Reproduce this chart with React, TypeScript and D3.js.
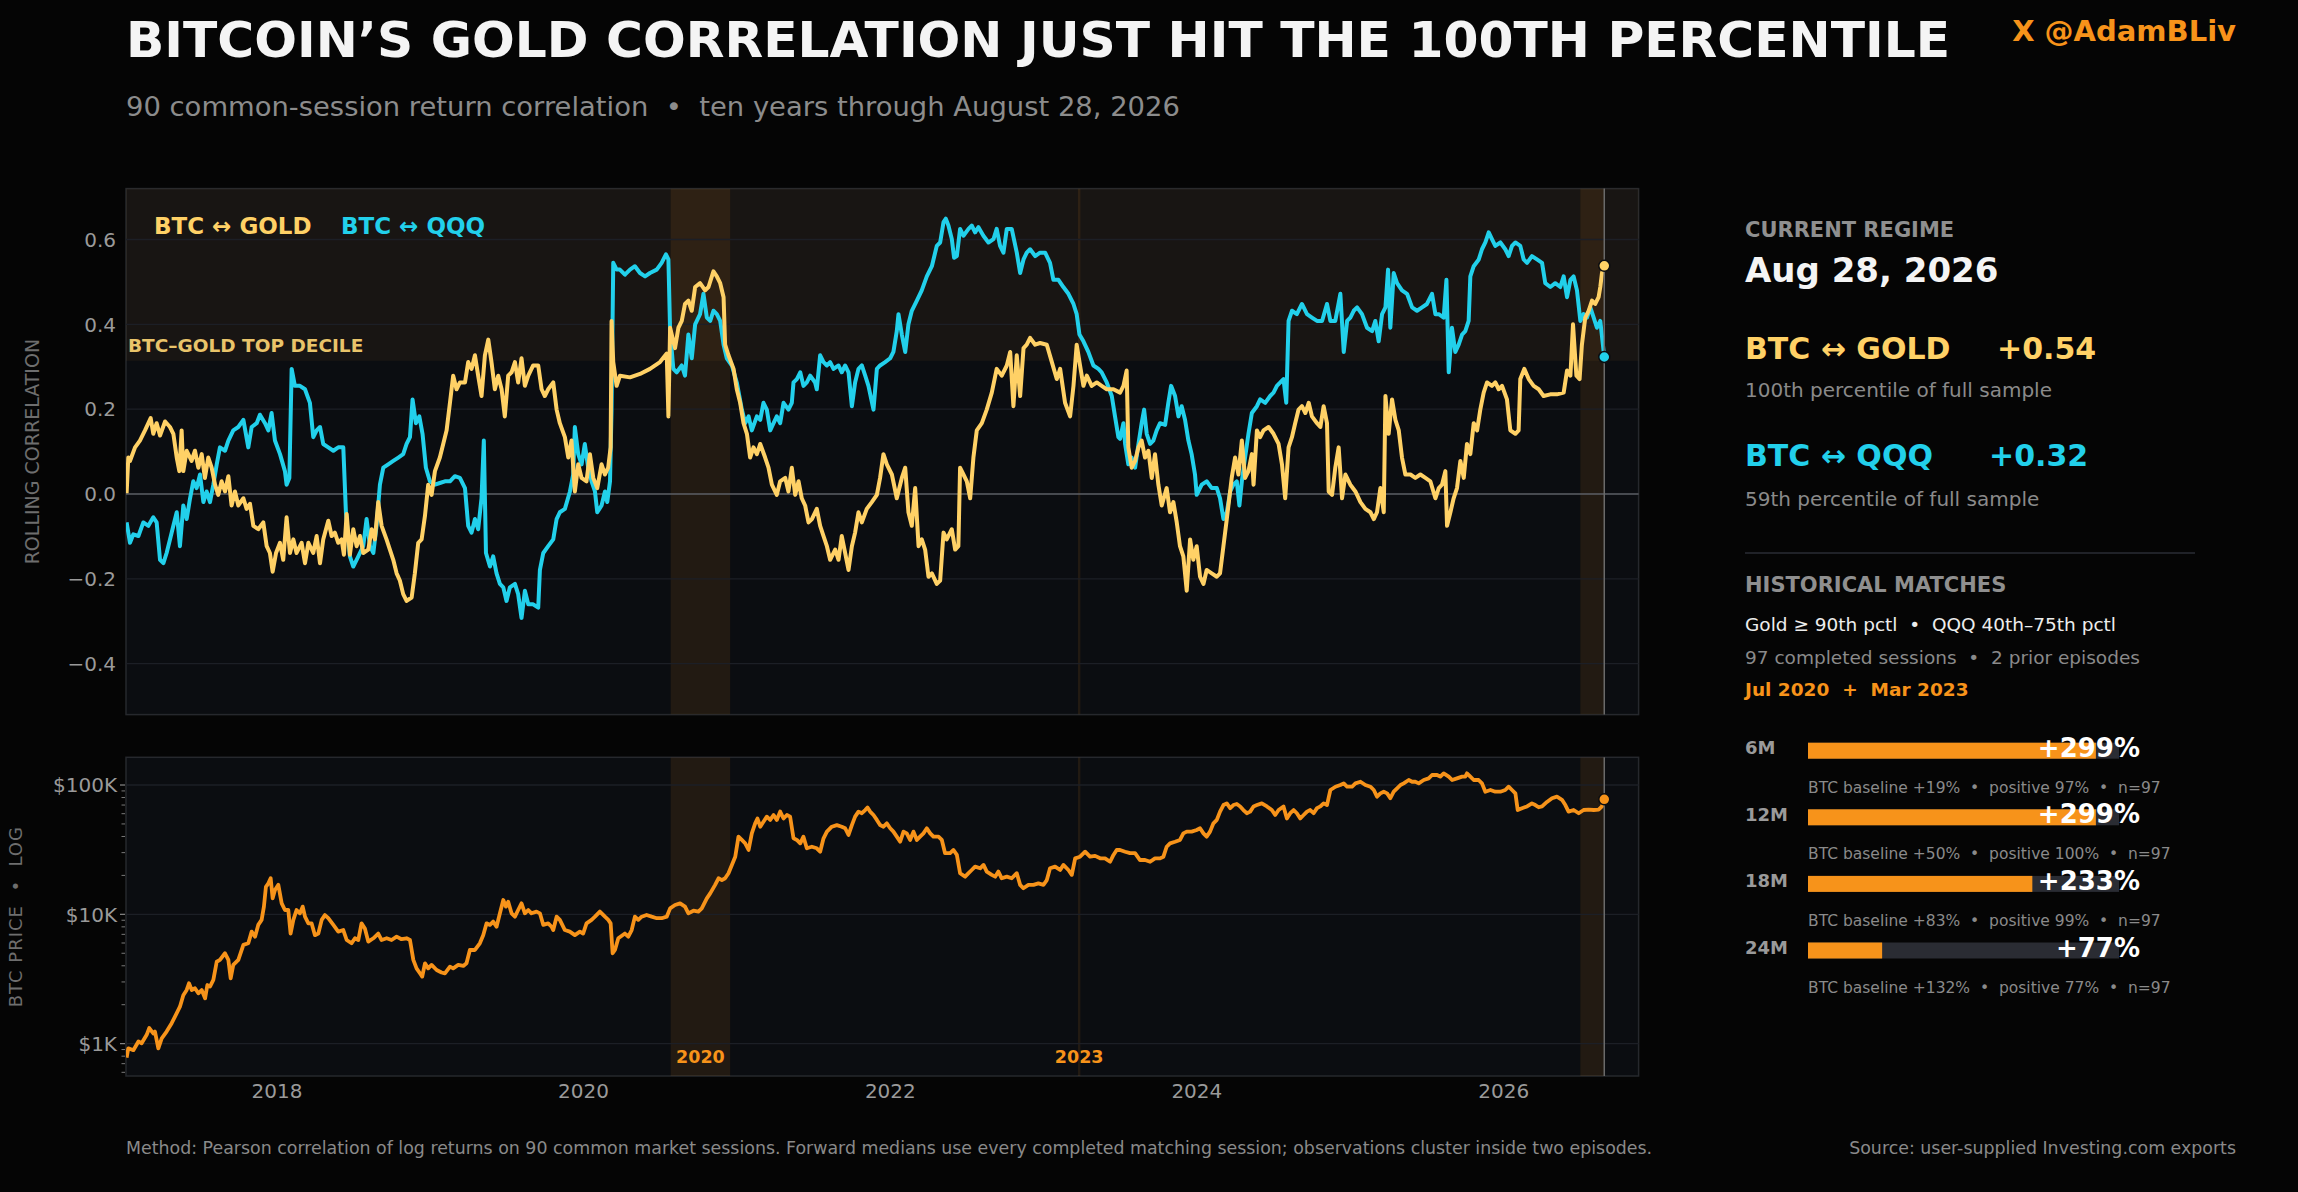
import React from "react";
import * as d3 from "d3";

const W = 2298;
const H = 1192;
const FONT = "DejaVu Sans, Verdana, sans-serif";
const SEP = "\u00a0 •\u00a0 ";

// Rolling 90-session correlation, [decimal year, r]
const goldCorr: [number, number][] = [
  [2017.019, 0.002], [2017.03, 0.086], [2017.041, 0.078], [2017.074, 0.11], [2017.106, 0.126], [2017.139, 0.15],
  [2017.176, 0.179], [2017.193, 0.142], [2017.215, 0.167], [2017.237, 0.138], [2017.27, 0.171], [2017.302, 0.158],
  [2017.324, 0.142], [2017.346, 0.086], [2017.363, 0.054], [2017.378, 0.15], [2017.389, 0.054], [2017.411, 0.102],
  [2017.443, 0.078], [2017.465, 0.102], [2017.487, 0.062], [2017.509, 0.094], [2017.53, 0.038], [2017.552, 0.086],
  [2017.574, 0.062], [2017.596, 0.022], [2017.617, -0.002], [2017.639, 0.03], [2017.661, 0.006], [2017.683, 0.042],
  [2017.704, -0.027], [2017.726, 0.006], [2017.748, -0.027], [2017.781, -0.01], [2017.802, -0.035], [2017.824, -0.023],
  [2017.846, -0.075], [2017.878, -0.083], [2017.911, -0.067], [2017.933, -0.123], [2017.954, -0.139], [2017.972, -0.183],
  [2017.994, -0.139], [2018.02, -0.115], [2018.041, -0.155], [2018.063, -0.055], [2018.085, -0.139], [2018.107, -0.107],
  [2018.128, -0.139], [2018.161, -0.115], [2018.183, -0.163], [2018.205, -0.115], [2018.237, -0.139], [2018.259, -0.099],
  [2018.281, -0.163], [2018.302, -0.107], [2018.335, -0.063], [2018.357, -0.099], [2018.378, -0.091], [2018.4, -0.115],
  [2018.422, -0.107], [2018.437, -0.143], [2018.455, -0.047], [2018.476, -0.143], [2018.498, -0.083], [2018.52, -0.123],
  [2018.542, -0.099], [2018.563, -0.139], [2018.596, -0.131], [2018.618, -0.083], [2018.639, -0.107], [2018.661, -0.019],
  [2018.683, -0.075], [2018.715, -0.107], [2018.737, -0.131], [2018.759, -0.155], [2018.781, -0.187], [2018.802, -0.204],
  [2018.824, -0.236], [2018.846, -0.252], [2018.879, -0.244], [2018.9, -0.187], [2018.922, -0.115], [2018.944, -0.107],
  [2018.966, -0.051], [2018.987, 0.022], [2019.009, -0.002], [2019.031, 0.054], [2019.063, 0.086], [2019.085, 0.118],
  [2019.107, 0.15], [2019.129, 0.215], [2019.15, 0.279], [2019.172, 0.247], [2019.194, 0.263], [2019.227, 0.263],
  [2019.248, 0.311], [2019.27, 0.295], [2019.292, 0.327], [2019.313, 0.279], [2019.335, 0.231], [2019.357, 0.327],
  [2019.379, 0.364], [2019.4, 0.311], [2019.422, 0.247], [2019.444, 0.279], [2019.466, 0.247], [2019.487, 0.183],
  [2019.509, 0.279], [2019.531, 0.287], [2019.553, 0.311], [2019.574, 0.263], [2019.596, 0.32], [2019.618, 0.255],
  [2019.64, 0.279], [2019.672, 0.303], [2019.705, 0.303], [2019.727, 0.247], [2019.748, 0.231], [2019.77, 0.247],
  [2019.803, 0.263], [2019.825, 0.199], [2019.846, 0.167], [2019.879, 0.134], [2019.901, 0.086], [2019.922, 0.126],
  [2019.944, 0.006], [2019.966, 0.07], [2019.988, 0.038], [2020.02, 0.03], [2020.042, 0.094], [2020.064, 0.038],
  [2020.09, 0.014], [2020.118, 0.07], [2020.14, 0.046], [2020.161, 0.062], [2020.177, 0.11], [2020.183, 0.408],
  [2020.194, 0.311], [2020.216, 0.255], [2020.238, 0.279], [2020.303, 0.275], [2020.368, 0.283], [2020.433, 0.295],
  [2020.498, 0.311], [2020.542, 0.331], [2020.553, 0.183], [2020.564, 0.392], [2020.596, 0.344], [2020.618, 0.392],
  [2020.64, 0.408], [2020.661, 0.448], [2020.683, 0.456], [2020.705, 0.432], [2020.727, 0.488], [2020.759, 0.497],
  [2020.792, 0.48], [2020.814, 0.488], [2020.846, 0.525], [2020.868, 0.513], [2020.89, 0.497], [2020.912, 0.464],
  [2020.922, 0.352], [2020.944, 0.327], [2020.977, 0.295], [2020.998, 0.247], [2021.02, 0.215], [2021.042, 0.167],
  [2021.064, 0.142], [2021.085, 0.086], [2021.107, 0.11], [2021.129, 0.094], [2021.151, 0.118], [2021.183, 0.086],
  [2021.205, 0.062], [2021.227, 0.022], [2021.259, -0.002], [2021.281, 0.03], [2021.314, 0.038], [2021.335, 0.006],
  [2021.357, 0.062], [2021.379, -0.002], [2021.401, 0.03], [2021.422, -0.01], [2021.444, -0.027], [2021.466, -0.067],
  [2021.488, -0.059], [2021.52, -0.035], [2021.542, -0.075], [2021.564, -0.099], [2021.586, -0.123], [2021.607, -0.155],
  [2021.64, -0.131], [2021.662, -0.155], [2021.683, -0.099], [2021.705, -0.139], [2021.727, -0.179], [2021.749, -0.123],
  [2021.77, -0.091], [2021.792, -0.043], [2021.814, -0.067], [2021.846, -0.035], [2021.879, -0.019], [2021.912, -0.002],
  [2021.933, 0.038], [2021.955, 0.094], [2021.977, 0.07], [2022.01, 0.046], [2022.042, -0.01], [2022.075, 0.038],
  [2022.097, 0.062], [2022.118, -0.043], [2022.14, -0.075], [2022.162, 0.014], [2022.184, -0.123], [2022.205, -0.107],
  [2022.227, -0.131], [2022.249, -0.195], [2022.271, -0.187], [2022.303, -0.212], [2022.325, -0.204], [2022.347, -0.091],
  [2022.368, -0.107], [2022.401, -0.083], [2022.423, -0.131], [2022.444, -0.123], [2022.455, 0.062], [2022.477, 0.046],
  [2022.499, 0.03], [2022.521, -0.01], [2022.542, 0.086], [2022.564, 0.15], [2022.597, 0.167], [2022.629, 0.199],
  [2022.662, 0.239], [2022.694, 0.295], [2022.727, 0.279], [2022.76, 0.303], [2022.782, 0.335], [2022.803, 0.207],
  [2022.825, 0.327], [2022.847, 0.231], [2022.869, 0.344], [2022.89, 0.352], [2022.912, 0.368], [2022.945, 0.352],
  [2022.977, 0.356], [2023.021, 0.352], [2023.053, 0.312], [2023.086, 0.271], [2023.108, 0.295], [2023.14, 0.215],
  [2023.173, 0.183], [2023.195, 0.255], [2023.216, 0.352], [2023.238, 0.303], [2023.26, 0.255], [2023.282, 0.279],
  [2023.314, 0.255], [2023.347, 0.263], [2023.379, 0.255], [2023.412, 0.247], [2023.456, 0.247], [2023.499, 0.239],
  [2023.521, 0.255], [2023.542, 0.291], [2023.553, 0.11], [2023.575, 0.062], [2023.597, 0.078], [2023.619, 0.11],
  [2023.64, 0.126], [2023.662, 0.086], [2023.684, 0.102], [2023.706, 0.038], [2023.727, 0.094], [2023.749, 0.022],
  [2023.771, -0.027], [2023.803, 0.014], [2023.825, -0.043], [2023.847, -0.019], [2023.869, -0.067], [2023.89, -0.123],
  [2023.912, -0.147], [2023.934, -0.228], [2023.956, -0.107], [2023.977, -0.155], [2023.999, -0.123], [2024.021, -0.195],
  [2024.043, -0.212], [2024.064, -0.179], [2024.097, -0.187], [2024.13, -0.195], [2024.151, -0.187], [2024.173, -0.123],
  [2024.195, -0.059], [2024.227, 0.038], [2024.249, 0.086], [2024.271, 0.046], [2024.293, 0.126], [2024.314, 0.038],
  [2024.336, 0.054], [2024.358, 0.094], [2024.369, 0.022], [2024.391, 0.15], [2024.412, 0.134], [2024.434, 0.15],
  [2024.467, 0.158], [2024.499, 0.142], [2024.532, 0.118], [2024.554, 0.07], [2024.575, -0.01], [2024.597, 0.11],
  [2024.619, 0.134], [2024.64, 0.167], [2024.662, 0.199], [2024.684, 0.207], [2024.706, 0.191], [2024.728, 0.215],
  [2024.749, 0.183], [2024.782, 0.167], [2024.804, 0.158], [2024.825, 0.207], [2024.847, 0.167], [2024.858, 0.006],
  [2024.88, -0.002], [2024.901, 0.062], [2024.923, 0.11], [2024.945, -0.01], [2024.967, 0.046], [2024.999, 0.022],
  [2025.032, 0.006], [2025.065, -0.019], [2025.097, -0.035], [2025.13, -0.043], [2025.152, -0.059], [2025.173, -0.043],
  [2025.195, 0.014], [2025.217, -0.043], [2025.228, 0.231], [2025.249, 0.142], [2025.271, 0.223], [2025.293, 0.175],
  [2025.315, 0.15], [2025.336, 0.086], [2025.358, 0.046], [2025.391, 0.046], [2025.423, 0.038], [2025.456, 0.046],
  [2025.489, 0.038], [2025.521, 0.03], [2025.554, -0.01], [2025.576, 0.014], [2025.597, 0.022], [2025.619, 0.054],
  [2025.63, -0.075], [2025.652, -0.043], [2025.673, -0.01], [2025.695, 0.014], [2025.717, 0.078], [2025.739, 0.038],
  [2025.76, 0.118], [2025.782, 0.094], [2025.804, 0.167], [2025.826, 0.15], [2025.847, 0.199], [2025.869, 0.239],
  [2025.891, 0.263], [2025.923, 0.255], [2025.945, 0.263], [2025.967, 0.247], [2025.989, 0.255], [2026.021, 0.223],
  [2026.043, 0.15], [2026.076, 0.142], [2026.097, 0.15], [2026.108, 0.271], [2026.134, 0.295], [2026.163, 0.271],
  [2026.195, 0.255], [2026.228, 0.247], [2026.26, 0.231], [2026.304, 0.235], [2026.347, 0.235], [2026.391, 0.239],
  [2026.413, 0.291], [2026.435, 0.279], [2026.452, 0.4], [2026.474, 0.279], [2026.495, 0.271], [2026.51, 0.352],
  [2026.532, 0.416], [2026.554, 0.432], [2026.576, 0.456], [2026.597, 0.448], [2026.619, 0.464], [2026.63, 0.488],
  [2026.641, 0.521], [2026.656, 0.538],
];

const qqqCorr: [number, number][] = [
  [2017.019, -0.067], [2017.041, -0.115], [2017.063, -0.095], [2017.096, -0.099], [2017.128, -0.067], [2017.161, -0.075],
  [2017.193, -0.055], [2017.215, -0.067], [2017.237, -0.155], [2017.259, -0.163], [2017.28, -0.139], [2017.302, -0.107],
  [2017.324, -0.075], [2017.346, -0.043], [2017.367, -0.123], [2017.389, -0.027], [2017.411, -0.059], [2017.433, -0.01],
  [2017.454, 0.03], [2017.476, 0.014], [2017.498, 0.046], [2017.52, -0.019], [2017.541, 0.006], [2017.563, -0.019],
  [2017.585, 0.022], [2017.607, 0.07], [2017.628, 0.11], [2017.661, 0.102], [2017.683, 0.126], [2017.715, 0.15],
  [2017.748, 0.158], [2017.781, 0.175], [2017.813, 0.11], [2017.835, 0.158], [2017.868, 0.167], [2017.889, 0.187],
  [2017.922, 0.167], [2017.944, 0.15], [2017.965, 0.191], [2017.987, 0.126], [2018.02, 0.094], [2018.052, 0.054],
  [2018.063, 0.022], [2018.081, 0.038], [2018.096, 0.295], [2018.117, 0.255], [2018.15, 0.255], [2018.183, 0.247],
  [2018.215, 0.215], [2018.237, 0.134], [2018.259, 0.15], [2018.281, 0.158], [2018.302, 0.118], [2018.335, 0.11],
  [2018.368, 0.102], [2018.4, 0.11], [2018.433, 0.11], [2018.45, -0.043], [2018.476, -0.147], [2018.498, -0.171],
  [2018.531, -0.147], [2018.563, -0.123], [2018.585, -0.059], [2018.607, -0.123], [2018.629, -0.139], [2018.65, -0.075],
  [2018.672, 0.022], [2018.694, 0.062], [2018.726, 0.07], [2018.759, 0.078], [2018.792, 0.086], [2018.824, 0.094],
  [2018.846, 0.118], [2018.868, 0.134], [2018.885, 0.223], [2018.907, 0.167], [2018.929, 0.183], [2018.95, 0.142],
  [2018.972, 0.062], [2018.998, 0.03], [2019.031, 0.022], [2019.063, 0.026], [2019.096, 0.03], [2019.129, 0.03],
  [2019.161, 0.042], [2019.194, 0.038], [2019.227, 0.014], [2019.248, -0.075], [2019.27, -0.091], [2019.292, -0.059],
  [2019.313, -0.083], [2019.335, -0.01], [2019.35, 0.126], [2019.364, -0.139], [2019.39, -0.171], [2019.411, -0.147],
  [2019.433, -0.187], [2019.455, -0.212], [2019.477, -0.22], [2019.498, -0.252], [2019.52, -0.22], [2019.553, -0.212],
  [2019.574, -0.236], [2019.596, -0.292], [2019.618, -0.228], [2019.64, -0.26], [2019.672, -0.26], [2019.705, -0.268],
  [2019.716, -0.179], [2019.738, -0.139], [2019.77, -0.123], [2019.803, -0.107], [2019.825, -0.059], [2019.846, -0.043],
  [2019.879, -0.035], [2019.912, 0.006], [2019.933, 0.046], [2019.944, 0.158], [2019.966, 0.094], [2019.988, 0.07],
  [2020.009, 0.118], [2020.031, 0.062], [2020.053, 0.03], [2020.075, 0.006], [2020.09, -0.043], [2020.118, -0.027],
  [2020.14, 0.006], [2020.155, -0.019], [2020.173, 0.03], [2020.183, 0.199], [2020.194, 0.545], [2020.216, 0.529],
  [2020.237, 0.529], [2020.27, 0.517], [2020.303, 0.529], [2020.335, 0.537], [2020.368, 0.521], [2020.401, 0.513],
  [2020.433, 0.521], [2020.477, 0.529], [2020.509, 0.545], [2020.537, 0.565], [2020.553, 0.553], [2020.564, 0.384],
  [2020.585, 0.295], [2020.607, 0.287], [2020.64, 0.303], [2020.661, 0.279], [2020.683, 0.376], [2020.705, 0.32],
  [2020.727, 0.4], [2020.759, 0.424], [2020.781, 0.472], [2020.803, 0.416], [2020.825, 0.408], [2020.846, 0.432],
  [2020.868, 0.424], [2020.89, 0.408], [2020.912, 0.352], [2020.933, 0.32], [2020.966, 0.303], [2020.998, 0.263],
  [2021.031, 0.199], [2021.053, 0.167], [2021.075, 0.183], [2021.096, 0.15], [2021.129, 0.183], [2021.151, 0.175],
  [2021.172, 0.215], [2021.194, 0.199], [2021.216, 0.15], [2021.238, 0.167], [2021.259, 0.183], [2021.281, 0.167],
  [2021.303, 0.215], [2021.335, 0.199], [2021.357, 0.215], [2021.368, 0.263], [2021.39, 0.271], [2021.412, 0.287],
  [2021.433, 0.255], [2021.455, 0.263], [2021.477, 0.279], [2021.509, 0.263], [2021.52, 0.247], [2021.542, 0.327],
  [2021.564, 0.311], [2021.586, 0.303], [2021.607, 0.311], [2021.629, 0.295], [2021.662, 0.303], [2021.683, 0.287],
  [2021.705, 0.303], [2021.727, 0.287], [2021.749, 0.207], [2021.77, 0.263], [2021.792, 0.295], [2021.814, 0.303],
  [2021.836, 0.279], [2021.857, 0.255], [2021.89, 0.199], [2021.912, 0.295], [2021.933, 0.303], [2021.966, 0.311],
  [2021.999, 0.32], [2022.02, 0.335], [2022.042, 0.384], [2022.053, 0.424], [2022.075, 0.376], [2022.097, 0.335],
  [2022.118, 0.4], [2022.14, 0.432], [2022.173, 0.456], [2022.205, 0.48], [2022.238, 0.513], [2022.271, 0.537],
  [2022.303, 0.585], [2022.325, 0.593], [2022.347, 0.641], [2022.362, 0.649], [2022.379, 0.633], [2022.401, 0.601],
  [2022.416, 0.557], [2022.434, 0.561], [2022.455, 0.625], [2022.477, 0.609], [2022.51, 0.625], [2022.531, 0.633],
  [2022.553, 0.617], [2022.575, 0.629], [2022.607, 0.609], [2022.64, 0.593], [2022.673, 0.601], [2022.694, 0.625],
  [2022.716, 0.585], [2022.738, 0.569], [2022.76, 0.625], [2022.792, 0.625], [2022.825, 0.569], [2022.847, 0.521],
  [2022.869, 0.553], [2022.89, 0.569], [2022.912, 0.577], [2022.945, 0.561], [2022.977, 0.569], [2023.01, 0.569],
  [2023.042, 0.545], [2023.064, 0.505], [2023.097, 0.505], [2023.129, 0.488], [2023.162, 0.472], [2023.195, 0.448],
  [2023.216, 0.424], [2023.234, 0.376], [2023.26, 0.36], [2023.292, 0.335], [2023.325, 0.303], [2023.358, 0.295],
  [2023.379, 0.287], [2023.412, 0.263], [2023.445, 0.231], [2023.466, 0.183], [2023.488, 0.134], [2023.499, 0.13],
  [2023.521, 0.167], [2023.532, 0.118], [2023.553, 0.07], [2023.575, 0.086], [2023.597, 0.062], [2023.619, 0.118],
  [2023.64, 0.167], [2023.656, 0.199], [2023.673, 0.142], [2023.695, 0.118], [2023.716, 0.126], [2023.738, 0.15],
  [2023.76, 0.167], [2023.793, 0.163], [2023.814, 0.215], [2023.832, 0.255], [2023.858, 0.231], [2023.88, 0.183],
  [2023.901, 0.207], [2023.923, 0.175], [2023.945, 0.126], [2023.966, 0.094], [2023.988, 0.046], [2023.999, -0.002],
  [2024.032, 0.022], [2024.064, 0.03], [2024.097, 0.014], [2024.13, 0.014], [2024.151, -0.01], [2024.173, -0.059],
  [2024.195, -0.043], [2024.217, 0.006], [2024.238, 0.022], [2024.26, 0.03], [2024.277, -0.027], [2024.293, 0.03],
  [2024.314, 0.086], [2024.336, 0.142], [2024.358, 0.191], [2024.391, 0.207], [2024.412, 0.223], [2024.445, 0.215],
  [2024.477, 0.231], [2024.499, 0.239], [2024.521, 0.255], [2024.543, 0.263], [2024.564, 0.271], [2024.582, 0.215],
  [2024.597, 0.408], [2024.619, 0.432], [2024.651, 0.424], [2024.684, 0.448], [2024.717, 0.424], [2024.749, 0.416],
  [2024.782, 0.408], [2024.815, 0.408], [2024.847, 0.448], [2024.869, 0.408], [2024.901, 0.408], [2024.934, 0.472],
  [2024.956, 0.335], [2024.978, 0.408], [2024.999, 0.416], [2025.021, 0.432], [2025.043, 0.44], [2025.075, 0.424],
  [2025.108, 0.392], [2025.141, 0.384], [2025.162, 0.408], [2025.184, 0.36], [2025.206, 0.424], [2025.228, 0.44],
  [2025.245, 0.529], [2025.26, 0.392], [2025.282, 0.521], [2025.304, 0.497], [2025.336, 0.48], [2025.369, 0.472],
  [2025.402, 0.44], [2025.434, 0.432], [2025.467, 0.44], [2025.499, 0.448], [2025.532, 0.472], [2025.554, 0.424],
  [2025.576, 0.424], [2025.608, 0.416], [2025.626, 0.505], [2025.641, 0.287], [2025.662, 0.392], [2025.684, 0.335],
  [2025.706, 0.352], [2025.728, 0.376], [2025.749, 0.384], [2025.771, 0.408], [2025.782, 0.513], [2025.804, 0.537],
  [2025.837, 0.553], [2025.858, 0.577], [2025.88, 0.593], [2025.902, 0.617], [2025.923, 0.601], [2025.945, 0.585],
  [2025.978, 0.593], [2026.01, 0.577], [2026.032, 0.561], [2026.054, 0.585], [2026.076, 0.593], [2026.108, 0.585],
  [2026.13, 0.553], [2026.152, 0.545], [2026.184, 0.561], [2026.217, 0.553], [2026.25, 0.545], [2026.271, 0.497],
  [2026.304, 0.488], [2026.336, 0.497], [2026.369, 0.488], [2026.391, 0.513], [2026.413, 0.464], [2026.435, 0.505],
  [2026.456, 0.513], [2026.478, 0.48], [2026.5, 0.408], [2026.521, 0.424], [2026.543, 0.416], [2026.565, 0.44],
  [2026.587, 0.416], [2026.608, 0.392], [2026.63, 0.408], [2026.656, 0.323],
];

// BTC close in USD, [decimal year, price]
const btcPrice: [number, number][] = [
  [2017.019, 780], [2017.03, 920], [2017.063, 890], [2017.096, 1040], [2017.117, 1006], [2017.15, 1170],
  [2017.167, 1320], [2017.193, 1200], [2017.204, 1240], [2017.226, 920], [2017.248, 1100], [2017.28, 1240],
  [2017.313, 1440], [2017.346, 1720], [2017.367, 1930], [2017.389, 2370], [2017.411, 2600], [2017.426, 2930],
  [2017.444, 2600], [2017.465, 2680], [2017.487, 2450], [2017.509, 2600], [2017.531, 2240], [2017.546, 2840],
  [2017.563, 2760], [2017.585, 3110], [2017.607, 4300], [2017.628, 4440], [2017.661, 5000], [2017.683, 4440],
  [2017.698, 3200], [2017.715, 4060], [2017.748, 4440], [2017.781, 5800], [2017.813, 5970], [2017.835, 7350],
  [2017.857, 6720], [2017.878, 8280], [2017.9, 9060], [2017.915, 11470], [2017.928, 16300], [2017.944, 17360],
  [2017.959, 19000], [2017.972, 13300], [2017.987, 15420], [2018.009, 16900], [2018.031, 12160], [2018.052, 10800],
  [2018.074, 10800], [2018.089, 7100], [2018.107, 9060], [2018.128, 10800], [2018.15, 10180], [2018.168, 11470],
  [2018.183, 9590], [2018.205, 8520], [2018.226, 8520], [2018.248, 6900], [2018.27, 7100], [2018.292, 9060],
  [2018.313, 9880], [2018.335, 9330], [2018.368, 8280], [2018.4, 7350], [2018.433, 7560], [2018.455, 6330],
  [2018.487, 5970], [2018.509, 6530], [2018.531, 6330], [2018.552, 8520], [2018.574, 7780], [2018.596, 6150],
  [2018.629, 6530], [2018.661, 7100], [2018.683, 6330], [2018.716, 6530], [2018.748, 6330], [2018.781, 6720],
  [2018.813, 6420], [2018.846, 6530], [2018.868, 6330], [2018.89, 4440], [2018.911, 3820], [2018.933, 3500],
  [2018.948, 3300], [2018.966, 4180], [2018.987, 3820], [2019.009, 4060], [2019.042, 3710], [2019.074, 3550],
  [2019.096, 3490], [2019.129, 3940], [2019.15, 3820], [2019.183, 4060], [2019.216, 3990], [2019.237, 4180],
  [2019.259, 5300], [2019.292, 5300], [2019.324, 5970], [2019.346, 6900], [2019.368, 8520], [2019.39, 8280],
  [2019.411, 8780], [2019.433, 8020], [2019.455, 10180], [2019.477, 12900], [2019.494, 11470], [2019.509, 12500],
  [2019.531, 10180], [2019.553, 9590], [2019.574, 10800], [2019.596, 12160], [2019.618, 10180], [2019.64, 10800],
  [2019.661, 10180], [2019.694, 10500], [2019.716, 10180], [2019.738, 8280], [2019.77, 8520], [2019.792, 8020],
  [2019.803, 7560], [2019.825, 9590], [2019.846, 9060], [2019.879, 7560], [2019.911, 7350], [2019.944, 6900],
  [2019.977, 7350], [2019.998, 7100], [2020.02, 8520], [2020.053, 9060], [2020.075, 9590], [2020.107, 10500],
  [2020.14, 9590], [2020.162, 9060], [2020.177, 8520], [2020.19, 5000], [2020.205, 5300], [2020.227, 6530],
  [2020.27, 7100], [2020.292, 6720], [2020.314, 7560], [2020.335, 9590], [2020.357, 9060], [2020.379, 9590],
  [2020.411, 9880], [2020.444, 9590], [2020.477, 9330], [2020.509, 9330], [2020.542, 9590], [2020.564, 11120],
  [2020.596, 11800], [2020.629, 12160], [2020.661, 11470], [2020.683, 10180], [2020.716, 10660], [2020.748, 10500],
  [2020.77, 11120], [2020.803, 13300], [2020.825, 14530], [2020.857, 16900], [2020.879, 19000], [2020.901, 18400],
  [2020.922, 19000], [2020.944, 20800], [2020.966, 24100], [2020.988, 27900], [2021.009, 39860], [2021.031, 37600],
  [2021.053, 35400], [2021.075, 31440], [2021.096, 42300], [2021.118, 50540], [2021.133, 55100], [2021.151, 47600],
  [2021.172, 52000], [2021.194, 56910], [2021.216, 53700], [2021.238, 58600], [2021.259, 53700], [2021.281, 62300],
  [2021.303, 55100], [2021.325, 58600], [2021.346, 56910], [2021.368, 38700], [2021.39, 37600], [2021.412, 35400],
  [2021.433, 39860], [2021.455, 32400], [2021.488, 33300], [2021.52, 32400], [2021.542, 30500], [2021.564, 38700],
  [2021.586, 43600], [2021.618, 47600], [2021.651, 49000], [2021.683, 47600], [2021.705, 46300], [2021.727, 41100],
  [2021.749, 49000], [2021.77, 56910], [2021.792, 62300], [2021.814, 60500], [2021.836, 64080], [2021.851, 67100],
  [2021.868, 62300], [2021.89, 58600], [2021.912, 53700], [2021.933, 49000], [2021.955, 47600], [2021.977, 50540],
  [2021.999, 46300], [2022.02, 43600], [2022.042, 39860], [2022.064, 36400], [2022.086, 43600], [2022.107, 42300],
  [2022.129, 37600], [2022.151, 43600], [2022.173, 37600], [2022.194, 39860], [2022.216, 42300], [2022.238, 46300],
  [2022.26, 42300], [2022.281, 39860], [2022.314, 39860], [2022.336, 37600], [2022.357, 29700], [2022.39, 29700],
  [2022.412, 31440], [2022.434, 28800], [2022.455, 20800], [2022.488, 19550], [2022.51, 20800], [2022.531, 22010],
  [2022.553, 23400], [2022.586, 22700], [2022.608, 24100], [2022.629, 21400], [2022.662, 20200], [2022.684, 19550],
  [2022.705, 21400], [2022.727, 19000], [2022.76, 19550], [2022.792, 19000], [2022.825, 20800], [2022.847, 16900],
  [2022.868, 15900], [2022.901, 16900], [2022.934, 16900], [2022.966, 17360], [2022.999, 16900], [2023.021, 18400],
  [2023.042, 22700], [2023.075, 23400], [2023.108, 22010], [2023.129, 24100], [2023.162, 22010], [2023.184, 20200],
  [2023.206, 27100], [2023.238, 27900], [2023.271, 30500], [2023.303, 27900], [2023.336, 28300], [2023.369, 27100],
  [2023.401, 27100], [2023.434, 25500], [2023.456, 28800], [2023.477, 31440], [2023.499, 31440], [2023.532, 30500],
  [2023.564, 29700], [2023.597, 29700], [2023.629, 26300], [2023.662, 26300], [2023.695, 25500], [2023.727, 27100],
  [2023.76, 27100], [2023.782, 27900], [2023.803, 33300], [2023.825, 35400], [2023.858, 36400], [2023.89, 37600],
  [2023.912, 42300], [2023.934, 43600], [2023.966, 43600], [2023.999, 44880], [2024.021, 46300], [2024.043, 42300],
  [2024.064, 39860], [2024.086, 43600], [2024.108, 50540], [2024.13, 53700], [2024.151, 62300], [2024.173, 70000],
  [2024.195, 72150], [2024.217, 66200], [2024.238, 70000], [2024.26, 71300], [2024.282, 68300], [2024.303, 64080],
  [2024.325, 60500], [2024.347, 62300], [2024.369, 68300], [2024.391, 70000], [2024.423, 72150], [2024.456, 68300],
  [2024.488, 64080], [2024.51, 58600], [2024.532, 64080], [2024.564, 68300], [2024.586, 55100], [2024.608, 60500],
  [2024.63, 64080], [2024.651, 60500], [2024.673, 55100], [2024.695, 58600], [2024.717, 62300], [2024.738, 64080],
  [2024.76, 60500], [2024.782, 66200], [2024.804, 68300], [2024.825, 72150], [2024.847, 70000], [2024.869, 91500],
  [2024.902, 97000], [2024.934, 100000], [2024.956, 103000], [2024.978, 97000], [2025.01, 97000], [2025.032, 103000],
  [2025.065, 106000], [2025.097, 100000], [2025.13, 97000], [2025.152, 91500], [2025.173, 81250], [2025.195, 86200],
  [2025.217, 88800], [2025.239, 86200], [2025.26, 79000], [2025.282, 88800], [2025.304, 94200], [2025.326, 100000],
  [2025.347, 103000], [2025.38, 109300], [2025.402, 106000], [2025.423, 106000], [2025.445, 103000], [2025.478, 109300],
  [2025.51, 112600], [2025.532, 119500], [2025.565, 119500], [2025.586, 116000], [2025.608, 123100], [2025.641, 116000],
  [2025.663, 109300], [2025.695, 112600], [2025.728, 116000], [2025.749, 116000], [2025.76, 123100], [2025.782, 116000],
  [2025.804, 109300], [2025.836, 109300], [2025.858, 103000], [2025.88, 88800], [2025.913, 91500], [2025.945, 88800],
  [2025.978, 88800], [2026.01, 91500], [2026.032, 97000], [2026.054, 91500], [2026.076, 86200], [2026.091, 64080],
  [2026.119, 66200], [2026.152, 68300], [2026.184, 72150], [2026.206, 70000], [2026.228, 67300], [2026.25, 68300],
  [2026.282, 74000], [2026.315, 79000], [2026.347, 81250], [2026.38, 76800], [2026.402, 70000], [2026.423, 62300],
  [2026.456, 64080], [2026.489, 60500], [2026.521, 64080], [2026.554, 64600], [2026.587, 64080], [2026.619, 64600],
  [2026.641, 68300], [2026.656, 77500],
];

const corrTicks = [-0.4, -0.2, 0, 0.2, 0.4, 0.6];
const priceTicks = [1000, 10000, 100000];
const priceTickLabels = ["$1K", "$10K", "$100K"];
const yearTicks = [2018, 2020, 2022, 2024, 2026];
const goldTopDecile = 0.314;

const episodeLabels = ["2020", "2023"];
const episodeStarts = [2020.568, 2023.224];
const episodeEnds = [2020.955, 2023.24];
const currentStart = 2026.5;
const currentEnd = 2026.656;

// forward BTC returns after matching sessions
const horizons = ["6M", "12M", "18M", "24M"];
const medianReturns = [299, 299, 233, 77];
const baselineReturns = [19, 50, 83, 132];
const positiveShares = [97, 100, 99, 77];
const sampleSizes = [97, 97, 97, 97];

const GOLD = "#ffd166";
const CYAN = "#22d0eb";
const ORANGE = "#f7931a";
const GRID = "#1c1f26";

// decimal year -> Date
const toDate = (t: number) => {
  const y = Math.floor(t);
  const a = Date.UTC(y, 0, 1);
  const b = Date.UTC(y + 1, 0, 1);
  return new Date(a + (t - y) * (b - a));
};

const PL = 126;
const PR = 1638.6;
const TOP = { y0: 188.6, y1: 714.6 };
const BOT = { y0: 757.3, y1: 1076 };

export default function App() {
  const x = d3.scaleUtc().domain([toDate(2017.015), toDate(2026.88)]).range([PL, PR]);
  const yc = d3.scaleLinear().domain([-0.52, 0.72]).range([TOP.y1, TOP.y0]);
  const yp = d3.scaleLog().domain([562, 163800]).range([BOT.y1, BOT.y0]);

  const corrLine = d3
    .line<[number, number]>()
    .x((d) => x(toDate(d[0])))
    .y((d) => yc(d[1]));
  const priceLine = d3
    .line<[number, number]>()
    .x((d) => x(toDate(d[0])))
    .y((d) => yp(d[1]));

  const minorPriceTicks = yp.ticks().filter((v) => !priceTicks.includes(v));

  const xb = d3.scaleLinear().domain([0, 323]).range([0, 311]);
  const rowY = d3.scalePoint<string>().domain(horizons).range([742.7, 942.5]);
  const BAR_X = 1808;
  const RX = 1745;

  const goldLast = goldCorr[goldCorr.length - 1];
  const qqqLast = qqqCorr[qqqCorr.length - 1];
  const btcLast = btcPrice[btcPrice.length - 1];

  const bands = (y0: number, y1: number) => (
    <g>
      {episodeLabels.map((lab, i) => (
        <rect
          key={lab}
          x={x(toDate(episodeStarts[i]))}
          y={y0}
          width={Math.max(2, x(toDate(episodeEnds[i])) - x(toDate(episodeStarts[i])))}
          height={y1 - y0}
          fill={ORANGE}
          opacity={0.1}
        />
      ))}
      <rect
        x={x(toDate(currentStart))}
        y={y0}
        width={x(toDate(currentEnd)) - x(toDate(currentStart))}
        height={y1 - y0}
        fill={ORANGE}
        opacity={0.1}
      />
    </g>
  );

  return (
    <div style={{ position: "absolute", left: 0, top: 0, width: W, height: H, background: "#050505" }}>
      <svg width={W} height={H} style={{ display: "block", fontFamily: FONT }}>
        <defs>
          <clipPath id="clipTop">
            <rect x={PL} y={TOP.y0} width={PR - PL} height={TOP.y1 - TOP.y0} />
          </clipPath>
          <clipPath id="clipBot">
            <rect x={PL} y={BOT.y0} width={PR - PL} height={BOT.y1 - BOT.y0} />
          </clipPath>
        </defs>
        <rect width={W} height={H} fill="#050505" />

        {/* header */}
        <text x={126} y={57} fontSize={50.3} fontWeight="bold" fill="#f4f4f4">
          BITCOIN’S GOLD CORRELATION JUST HIT THE 100TH PERCENTILE
        </text>
        <text x={126} y={116} fontSize={27.4} fill="#8c8c8c">
          {`90 common-session return correlation${SEP}ten years through August 28, 2026`}
        </text>
        <text x={2236} y={41} fontSize={29} fontWeight="bold" fill={ORANGE} textAnchor="end">
          X @AdamBLiv
        </text>

        {/* correlation panel */}
        <rect x={PL} y={TOP.y0} width={PR - PL} height={TOP.y1 - TOP.y0} fill="#0b0d11" stroke="#26282d" strokeWidth={1.5} />
        <rect x={PL} y={TOP.y0} width={PR - PL} height={yc(goldTopDecile) - TOP.y0} fill="#f0a030" opacity={0.06} />
        <g clipPath="url(#clipTop)">{bands(TOP.y0, TOP.y1)}</g>
        {corrTicks
          .filter((t) => t !== 0)
          .map((t) => (
            <line key={t} x1={PL} x2={PR} y1={yc(t)} y2={yc(t)} stroke={GRID} strokeWidth={1.3} />
          ))}
        <line x1={PL} x2={PR} y1={yc(0)} y2={yc(0)} stroke="#5c5f66" strokeWidth={1.5} />
        {corrTicks.map((t) => (
          <text key={t} x={116} y={yc(t)} dy="0.36em" fontSize={20} fill="#9a9a9a" textAnchor="end">
            {t < 0 ? "−" + Math.abs(t).toFixed(1) : t.toFixed(1)}
          </text>
        ))}
        <text
          transform={`translate(32,${(TOP.y0 + TOP.y1) / 2}) rotate(-90)`}
          textAnchor="middle"
          dy="0.35em"
          fontSize={19}
          fill="#6e6e6e"
        >
          ROLLING CORRELATION
        </text>
        <g clipPath="url(#clipTop)">
          <path d={corrLine(qqqCorr) || ""} fill="none" stroke={CYAN} strokeWidth={4} strokeLinejoin="round" />
          <path d={corrLine(goldCorr) || ""} fill="none" stroke={GOLD} strokeWidth={4} strokeLinejoin="round" />
        </g>
        <line x1={x(toDate(currentEnd))} x2={x(toDate(currentEnd))} y1={TOP.y0} y2={TOP.y1} stroke="#6a6a6a" strokeWidth={1.5} />
        <circle cx={x(toDate(goldLast[0]))} cy={yc(goldLast[1])} r={5.5} fill={GOLD} stroke="#0b0d11" strokeWidth={1.5} />
        <circle cx={x(toDate(qqqLast[0]))} cy={yc(qqqLast[1])} r={5.5} fill={CYAN} stroke="#0b0d11" strokeWidth={1.5} />
        <text x={154} y={234} fontSize={23} fontWeight="bold" fill={GOLD}>BTC ↔ GOLD</text>
        <text x={341} y={234} fontSize={23} fontWeight="bold" fill={CYAN}>BTC ↔ QQQ</text>
        <text x={128} y={352} fontSize={18.5} fontWeight="bold" fill="#e9c46a">BTC–GOLD TOP DECILE</text>

        {/* price panel */}
        <rect x={PL} y={BOT.y0} width={PR - PL} height={BOT.y1 - BOT.y0} fill="#0b0d11" stroke="#26282d" strokeWidth={1.5} />
        <g clipPath="url(#clipBot)">{bands(BOT.y0, BOT.y1)}</g>
        {priceTicks.map((t) => (
          <line key={t} x1={PL} x2={PR} y1={yp(t)} y2={yp(t)} stroke={GRID} strokeWidth={1.3} />
        ))}
        {priceTicks.map((t, i) => (
          <g key={t}>
            <line x1={120} x2={125} y1={yp(t)} y2={yp(t)} stroke="#8a8a8a" strokeWidth={1.2} />
            <text x={117} y={yp(t)} dy="0.36em" fontSize={20} fill="#9a9a9a" textAnchor="end">
              {priceTickLabels[i]}
            </text>
          </g>
        ))}
        {minorPriceTicks.map((t) => (
          <line key={t} x1={121.5} x2={125} y1={yp(t)} y2={yp(t)} stroke="#7a7a7a" strokeWidth={1} />
        ))}
        <text
          transform={`translate(16,${(BOT.y0 + BOT.y1) / 2}) rotate(-90)`}
          textAnchor="middle"
          dy="0.35em"
          fontSize={18}
          fill="#6e6e6e"
          letterSpacing={1}
        >
          {`BTC PRICE${SEP}LOG`}
        </text>
        <g clipPath="url(#clipBot)">
          <path d={priceLine(btcPrice) || ""} fill="none" stroke={ORANGE} strokeWidth={3.8} strokeLinejoin="round" />
        </g>
        <line x1={x(toDate(currentEnd))} x2={x(toDate(currentEnd))} y1={BOT.y0} y2={BOT.y1} stroke="#6a6a6a" strokeWidth={1.5} />
        <circle cx={x(toDate(btcLast[0]))} cy={yp(btcLast[1])} r={5.5} fill={ORANGE} stroke="#0b0d11" strokeWidth={1.5} />
        {episodeLabels.map((lab, i) => (
          <text
            key={lab}
            x={x(toDate((episodeStarts[i] + episodeEnds[i]) / 2))}
            y={1063}
            fontSize={17.5}
            fontWeight="bold"
            fill={ORANGE}
            textAnchor="middle"
          >
            {lab}
          </text>
        ))}
        {yearTicks.map((yr) => (
          <text key={yr} x={x(new Date(Date.UTC(yr, 0, 1)))} y={1098} fontSize={20} fill="#9a9a9a" textAnchor="middle">
            {yr}
          </text>
        ))}

        {/* right side summary */}
        <text x={RX} y={237} fontSize={21} fontWeight="bold" fill="#8f8f8f">CURRENT REGIME</text>
        <text x={RX} y={282} fontSize={34} fontWeight="bold" fill="#f4f4f4">Aug 28, 2026</text>
        <text x={RX} y={359} fontSize={30} fontWeight="bold" fill={GOLD}>BTC ↔ GOLD</text>
        <text x={1997} y={359} fontSize={30} fontWeight="bold" fill={GOLD}>+0.54</text>
        <text x={RX} y={397} fontSize={20} fill="#8a8a8a">100th percentile of full sample</text>
        <text x={RX} y={466} fontSize={30} fontWeight="bold" fill={CYAN}>BTC ↔ QQQ</text>
        <text x={1989} y={466} fontSize={30} fontWeight="bold" fill={CYAN}>+0.32</text>
        <text x={RX} y={506} fontSize={20} fill="#8a8a8a">59th percentile of full sample</text>
        <line x1={RX} x2={2195} y1={553} y2={553} stroke="#2a2d35" strokeWidth={1.5} />
        <text x={RX} y={592} fontSize={21} fontWeight="bold" fill="#8f8f8f">HISTORICAL MATCHES</text>
        <text x={RX} y={631} fontSize={18.5} fill="#ededed">{`Gold ≥ 90th pctl${SEP}QQQ 40th–75th pctl`}</text>
        <text x={RX} y={664} fontSize={18.5} fill="#8a8a8a">{`97 completed sessions${SEP}2 prior episodes`}</text>
        <text x={RX} y={696} fontSize={18.5} fontWeight="bold" fill={ORANGE}>{"Jul 2020\u00a0 +\u00a0 Mar 2023"}</text>

        {horizons.map((h, i) => {
          const y = rowY(h) as number;
          return (
            <g key={h}>
              <text x={RX} y={y + 11.5} fontSize={18} fontWeight="bold" fill="#9a9a9a">{h}</text>
              <rect x={BAR_X} y={y} width={xb.range()[1]} height={16} fill="#2a2c33" />
              <rect x={BAR_X} y={y} width={xb(medianReturns[i])} height={16} fill={ORANGE} />
              <text x={2140} y={y + 14} fontSize={26} fontWeight="bold" fill="#ffffff" textAnchor="end">
                +{medianReturns[i]}%
              </text>
              <text x={BAR_X} y={y + 50} fontSize={15.5} fill="#8a8a8a">
                {`BTC baseline +${baselineReturns[i]}%${SEP}positive ${positiveShares[i]}%${SEP}n=${sampleSizes[i]}`}
              </text>
            </g>
          );
        })}

        {/* footer */}
        <text x={126} y={1154} fontSize={17.4} fill="#8a8a8a">
          Method: Pearson correlation of log returns on 90 common market sessions. Forward medians use every completed matching session; observations cluster inside two episodes.
        </text>
        <text x={2236} y={1154} fontSize={17.4} fill="#8a8a8a" textAnchor="end">
          Source: user-supplied Investing.com exports
        </text>
      </svg>
    </div>
  );
}
